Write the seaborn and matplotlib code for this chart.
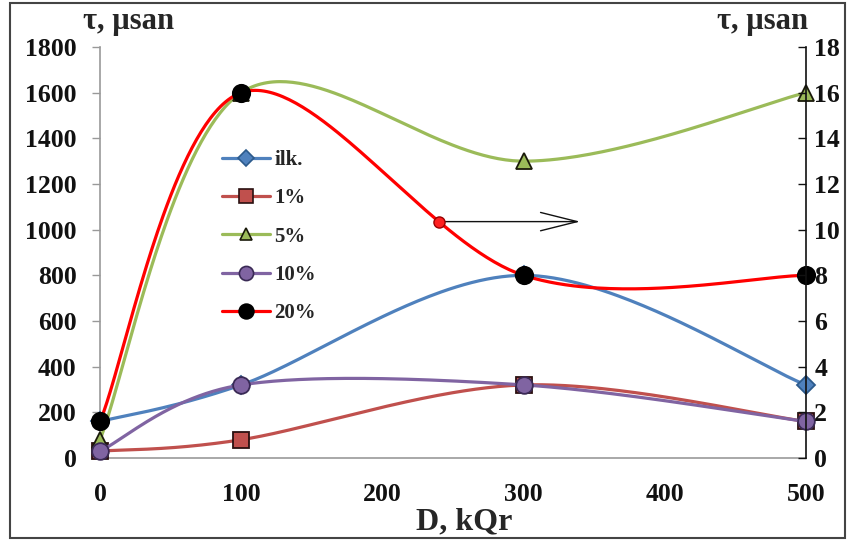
import numpy as np
import pandas as pd
import matplotlib
matplotlib.use("Agg")
import matplotlib.pyplot as plt
from matplotlib.patches import Rectangle
from matplotlib.lines import Line2D
import seaborn as sns

# ---- data ----
dose = [0, 100, 300, 500]                 # D, kQr
tau_ilk = [160, 320, 800, 320]            # left axis, μsan
tau_1 = [30, 80, 320, 160]
tau_5 = [80, 1600, 1300, 1600]
tau_10 = [30, 320, 320, 160]
tau_20_right = [1.6, 16, 8, 8]            # right axis, μsan
series_names = ["ilk.", "1%", "5%", "10%", "20%"]

left_ticks = [0, 200, 400, 600, 800, 1000, 1200, 1400, 1600, 1800]
right_ticks = [0, 2, 4, 6, 8, 10, 12, 14, 16, 18]
x_ticks = [0, 100, 200, 300, 400, 500]
arrow_from_x = 240
arrow_to_x = 340

sns.set_theme(style="white")
plt.rcParams["font.family"] = ["Liberation Serif", "DejaVu Serif"]
plt.rcParams["font.weight"] = "bold"


def smooth(xs, ys, n=80):
    """Piecewise cubic Bezier through the points (Catmull-Rom style tangents)."""
    pts = np.column_stack([xs, ys]).astype(float)
    ext = np.vstack([pts[0], pts, pts[-1]])
    out = []
    t = np.linspace(0, 1, n)[:, None]
    for i in range(len(pts) - 1):
        p0, p1, p2, p3 = ext[i], ext[i + 1], ext[i + 2], ext[i + 3]
        c1 = p1 + (p2 - p0) / 6.0
        c2 = p2 - (p3 - p1) / 6.0
        seg = ((1 - t) ** 3) * p1 + 3 * ((1 - t) ** 2) * t * c1 + 3 * (1 - t) * t ** 2 * c2 + t ** 3 * p2
        out.append(seg if i == 0 else seg[1:])
    arr = np.vstack(out)
    return arr[:, 0], arr[:, 1]


scale = 100.0  # right-axis units shown on the left scale
tau_20 = [v * scale for v in tau_20_right]

styles = {
    "ilk.": dict(color="#4F81BD", marker="D", ms=9, mfc="#4F81BD", mec="#2C5A8C"),
    "1%": dict(color="#C0504D", marker="s", ms=12, mfc="#C0504D", mec="#2a1010"),
    "5%": dict(color="#9BBB59", marker="^", ms=11, mfc="#9BBB59", mec="#1a1a0a"),
    "10%": dict(color="#8064A2", marker="o", ms=12, mfc="#8064A2", mec="#3a2a55"),
    "20%": dict(color="#FF0000", marker="o", ms=12.5, mfc="#000000", mec="#000000"),
}
values = {"ilk.": tau_ilk, "1%": tau_1, "5%": tau_5, "10%": tau_10, "20%": tau_20}
LW = 2.3
TICK_FS = 18.5

fig = plt.figure(figsize=(8.49, 5.43), dpi=100)
ax = fig.add_axes([100 / 849, 85 / 543, 706 / 849, 411 / 543])

curves = {}
for k, name in enumerate(series_names):
    st = styles[name]
    sx, sy = smooth(dose, values[name])
    curves[name] = (sx, sy)
    df = pd.DataFrame({"D": sx, "tau": sy})
    sns.lineplot(data=df, x="D", y="tau", ax=ax, color=st["color"], lw=LW,
                 estimator=None, sort=False, zorder=2 + k * 2)
    ax.plot(dose, values[name], ls="none", marker=st["marker"], ms=st["ms"],
            mfc=st["mfc"], mec=st["mec"], mew=1.3, zorder=3 + k * 2, clip_on=False)

# arrow pointing the 20% curve to the right axis
sx, sy = curves["20%"]
ay = float(np.interp(arrow_from_x, sx, sy))
ax.annotate("", xy=(arrow_to_x, ay), xytext=(arrow_from_x, ay),
            arrowprops=dict(arrowstyle="->,head_length=2.2,head_width=0.55",
                            lw=1.0, color="#111111", shrinkA=0, shrinkB=0),
            zorder=20)
ax.plot([arrow_from_x], [ay], ls="none", marker="o", ms=8, mfc="#FF2020",
        mec="#990000", mew=1, zorder=21)

ax.set_xlim(0, 500)
ax.set_ylim(0, 1800)
ax.set_xticks(x_ticks)
ax.set_yticks(left_ticks)
ax.set_xlabel("")
ax.set_ylabel("")
ax.tick_params(axis="both", labelsize=TICK_FS, colors="#111111")
ax.tick_params(axis="x", direction="out", length=6, width=1, color="#999999", pad=12)
ax.tick_params(axis="y", direction="out", length=6, width=1, color="#999999", pad=11)
for lab in ax.get_xticklabels() + ax.get_yticklabels():
    lab.set_fontweight("bold")
for side in ["top", "right"]:
    ax.spines[side].set_visible(False)
for side in ["left", "bottom"]:
    ax.spines[side].set_color("#999999")
    ax.spines[side].set_linewidth(1.2)

ax2 = ax.twinx()
ax2.set_ylim(0, 1800 / scale)
ax2.set_yticks(right_ticks)
ax2.tick_params(axis="y", direction="in", length=6, width=1, color="#111111",
                labelsize=TICK_FS, pad=6, colors="#111111")
for lab in ax2.get_yticklabels():
    lab.set_fontweight("bold")
for side in ["top", "left", "bottom"]:
    ax2.spines[side].set_visible(False)
ax2.spines["right"].set_color("#111111")
ax2.spines["right"].set_linewidth(1.2)
ax2.grid(False)
ax.grid(False)

fig.text(83 / 849, 1 - 29 / 543, "τ, µsan", fontsize=22, fontweight="bold", ha="left", va="baseline")
fig.text(808 / 849, 1 - 29 / 543, "τ, µsan", fontsize=22, fontweight="bold", ha="right", va="baseline")
fig.text(464 / 849, 1 - 529 / 543, "D, kQr", fontsize=23, fontweight="bold", ha="center", va="baseline")

handles = [Line2D([], [], color=styles[n]["color"], lw=LW, marker=styles[n]["marker"],
                  ms=styles[n]["ms"] * 0.85, mfc=styles[n]["mfc"], mec=styles[n]["mec"], mew=1.2)
           for n in series_names]
leg = fig.legend(handles, series_names, loc="upper left",
                 bbox_to_anchor=(222 / 849, 1 - 150 / 543), frameon=False,
                 prop=dict(size=15, weight="bold"), handlelength=2.3, handletextpad=0.2,
                 labelspacing=0.88, borderpad=0, borderaxespad=0)

fig.patches.append(Rectangle((10 / 849, 5 / 543), 835 / 849, 535 / 543, transform=fig.transFigure,
                             fill=False, edgecolor="#444444", lw=1.5))

fig.savefig("out.png", dpi=100)
